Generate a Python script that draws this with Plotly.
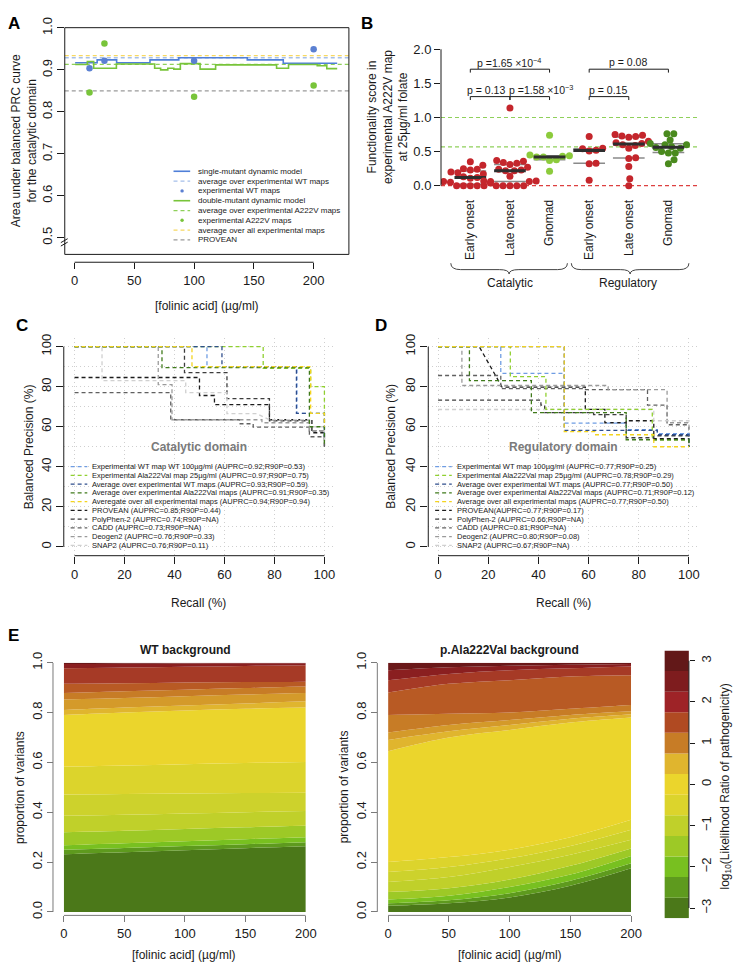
import numpy as np
import plotly.graph_objects as go

W, H = 744, 970
def fx(px): return px / W
def fy(py): return 1 - py / H

FONT = "Liberation Sans, Arial, Helvetica, sans-serif"
INK = "#1a1a1a"
DASH = "4px,3px"

# ---------------- Panel A data ----------------
A_CONC = [12.5, 25, 100, 200]
A_WT_MAPS = [0.904, 0.922, 0.922, 0.949]
A_A222V_MAPS = [0.846, 0.963, 0.836, 0.863]
A_SINGLE_X = [0.5, 18.9, 35.2, 63.1, 87.2, 144.5, 174.6, 219.7]
A_SINGLE_Y = [0.917, 0.924, 0.917, 0.924, 0.929, 0.924, 0.916, 0.916]
A_DOUBLE_X = [0.5, 10.7, 16.0, 35.0, 67.0, 72.0, 78.0, 83.0, 88.5, 105.0, 118.0, 169.0, 179.0, 203.0, 211.0, 219.7]
A_DOUBLE_Y = [0.913, 0.920, 0.904, 0.914, 0.904, 0.900, 0.904, 0.902, 0.915, 0.902, 0.912, 0.904, 0.913, 0.910, 0.903, 0.903]
A_AVG_ALL = 0.934
A_AVG_WT = 0.929
A_AVG_A222V = 0.913
A_PROVEAN = 0.850
A_XTICKS = [0, 50, 100, 150, 200]
A_YTICKS = [0.5, 0.6, 0.7, 0.8, 0.9, 1.0]

# ---------------- Panel B data ----------------
B_GROUPS = ["Early onset", "Late onset", "Gnomad", "Early onset", "Late onset", "Gnomad"]
B_DOMAINS = ["Catalytic", "Regulatory"]
B_EARLY_CAT = [0.35, 0.30, 0.25, 0.24, 0.23, 0.20, 0.19, 0.17, 0.13, 0.12, 0.11, 0.06, 0.05, 0.04, 0.0, 0.0, 0.0, 0.0, 0.0]
B_LATE_CAT = [1.14, 0.37, 0.36, 0.34, 0.33, 0.31, 0.27, 0.24, 0.23, 0.22, 0.22, 0.14, 0.07, 0.07, 0.06, 0.06, 0.0, 0.0, 0.0, 0.0, 0.0]
B_GNOMAD_CAT = [0.74, 0.45, 0.44, 0.43, 0.42, 0.42, 0.38, 0.37, 0.21]
B_EARLY_REG = [0.72, 0.55, 0.54, 0.52, 0.51, 0.33, 0.32, 0.08]
B_LATE_REG = [0.75, 0.74, 0.73, 0.72, 0.71, 0.65, 0.63, 0.62, 0.60, 0.59, 0.55, 0.41, 0.40, 0.28, 0.10, 0.0]
B_GNOMAD_REG = [0.76, 0.76, 0.67, 0.62, 0.60, 0.60, 0.57, 0.56, 0.55, 0.50, 0.48, 0.48, 0.38, 0.32]
B_WT_LEVEL = 1.0
B_A222V_LEVEL = 0.57
B_NULL_LEVEL = 0.0
B_YTICKS = [0.0, 0.5, 1.0, 1.5, 2.0]
B_PVALS = ["p = 0.13", "p =1.58 \u00d710<sup>\u22123</sup>", "p =1.65 \u00d710<sup>\u22124</sup>",
           "p = 0.15", "p = 0.08"]
B_PAIRS = [(1, 2), (2, 3), (1, 3), (4, 5), (4, 6)]

# ---------------- Panel C / D data (recall %, balanced precision %) ----------------
C_CURVES = [
    ("Experimental WT map WT 100\u00b5g/ml (AUPRC=0.92;R90P=0.53)",
     [0, 53, 53, 89, 89, 100, 100], [100, 100, 90, 90, 66.7, 66.7, 55]),
    ("Experimental Ala222Val map 25\u00b5g/ml (AUPRC=0.97;R90P=0.75)",
     [0, 75.5, 75.5, 94.5, 94.5, 100, 100], [100, 100, 89.2, 89.2, 80, 80, 60]),
    ("Average over experimental WT maps (AUPRC=0.93;R90P=0.59)",
     [0, 59, 59, 88.8, 88.8, 100, 100], [100, 100, 90, 90, 66.7, 66.7, 55]),
    ("Average over experimental Ala222Val maps (AUPRC=0.91;R90P=0.35)",
     [0, 35, 35, 94, 94, 100, 100], [100, 100, 89.5, 89.5, 60, 60, 50]),
    ("Averegate over all experimental maps (AUPRC=0.94;R90P=0.94)",
     [0, 47, 47, 94.5, 94.5, 100, 100], [100, 100, 90, 90, 66.7, 66.7, 60]),
    ("PROVEAN (AUPRC=0.85;R90P=0.44)",
     [0, 50, 50, 56, 56, 78, 78, 95, 95, 100, 100], [84.6, 84.6, 75.6, 75.6, 71, 71, 63.5, 63.5, 57, 57, 50]),
    ("PolyPhen-2 (AUPRC=0.74;R90P=NA)",
     [0, 44, 44, 61, 61, 78, 78, 94, 94, 100, 100], [100, 100, 87, 87, 74, 74, 63, 63, 58, 58, 54]),
    ("CADD (AUPRC=0.73;R90P=NA)",
     [0, 38.5, 38.5, 66, 66, 71.5, 71.5, 94, 94, 100, 100], [77, 77, 63.5, 63.5, 61.5, 61.5, 59.8, 59.8, 55, 55, 50]),
    ("Deogen2 (AUPRC=0.76;R90P=0.33)",
     [0, 33.5, 33.5, 39, 39, 75, 75, 94, 94, 100, 100], [100, 100, 81, 81, 63.5, 63.5, 62, 62, 58, 58, 50]),
    ("SNAP2 (AUPRC=0.76;R90P=0.11)",
     [0, 11, 11, 44.5, 44.5, 61, 61, 73, 78, 94, 94, 100, 100], [100, 100, 83, 83, 77, 77, 66.5, 66.5, 63.5, 63.5, 60, 60, 52]),
]
D_CURVES = [
    ("Experimental WT map 100\u00b5g/ml (AUPRC=0.77;R90P=0.25)",
     [0, 25, 25, 50.3, 50.3, 75, 75, 87.4, 87.4, 100, 100], [100, 100, 86.7, 86.7, 61.8, 61.8, 58.5, 58.5, 56.5, 56.5, 50]),
    ("Experimental Ala222Val map 25\u00b5g/ml (AUPRC=0.78;R90P=0.29)",
     [0, 28.8, 28.8, 43, 43, 85.4, 85.4, 100, 100], [100, 100, 85, 85, 68.7, 68.7, 53.5, 53.5, 50]),
    ("Average over experimental WT maps (AUPRC=0.77;R90P=0.50)",
     [0, 50.3, 50.3, 87.4, 87.4, 100, 100], [100, 100, 58.2, 58.2, 56, 56, 50]),
    ("Average over experimental Ala222Val maps (AUPRC=0.71;R90P=0.12)",
     [0, 12.5, 12.5, 37.2, 37.2, 75, 75, 100, 100], [100, 100, 83, 83, 67, 67, 53.5, 53.5, 50]),
    ("Average over all experimental maps (AUPRC=0.77;R90P=0.50)",
     [0, 50.3, 50.3, 62.5, 62.5, 86, 86, 100], [100, 100, 57.6, 57.6, 56, 56, 50, 50]),
    ("PROVEAN(AUPRC=0.77;R90P=0.17)",
     [0, 16.4, 25.5, 58.7, 58.7, 66.5, 66.5, 75, 75, 86, 86, 100, 100], [100, 100, 79.8, 79.8, 68.7, 68.7, 62, 62, 63, 63, 54, 54, 50]),
    ("PolyPhen-2 (AUPRC=0.66;R90P=NA)",
     [0, 41, 41, 42.5, 42.5, 62, 62, 75, 75, 86, 86, 100, 100], [73.3, 73.3, 70.8, 70.8, 67, 67, 66, 66, 54.5, 54.5, 55.5, 55.5, 50]),
    ("CADD (AUPRC=0.81;R90P=NA)",
     [0, 25, 25, 58, 58, 83.5, 83.5, 91.3, 91.3, 100, 100], [85.6, 85.6, 79, 79, 78.5, 78.5, 70.8, 70.8, 61, 61, 55]),
    ("Deogen2 (AUPRC=0.80;R90P=0.08)",
     [0, 9.5, 9.5, 67.8, 67.8, 91.3, 91.3, 100, 100], [100, 100, 80.6, 80.6, 78.5, 78.5, 62, 62, 58]),
    ("SNAP2 (AUPRC=0.67;R90P=NA)",
     [0, 86, 86, 100, 100], [68.6, 68.6, 63, 63, 60]),
]
PR_COLORS = ["#6f9de3", "#90d030", "#2e4d8c", "#3f7a1a", "#f4d41e",
             "#1c1c1c", "#3d3d3d", "#606060", "#9a9a9a", "#d0d0d0"]
PR_TICKS = [0, 20, 40, 60, 80, 100]

# ---------------- Panel E data (cumulative proportion of variants, bottom -> top) ----------------
E_CONC = [0, 50, 100, 150, 200]
E_WT_TOPS = [
    [0.232, 0.240, 0.248, 0.256, 0.264],
    [0.250, 0.257, 0.265, 0.272, 0.280],
    [0.268, 0.276, 0.284, 0.292, 0.300],
    [0.320, 0.326, 0.333, 0.340, 0.346],
    [0.386, 0.390, 0.395, 0.400, 0.405],
    [0.471, 0.473, 0.475, 0.477, 0.478],
    [0.583, 0.588, 0.593, 0.598, 0.602],
    [0.790, 0.800, 0.808, 0.815, 0.820],
    [0.810, 0.820, 0.828, 0.836, 0.845],
    [0.852, 0.858, 0.865, 0.872, 0.878],
    [0.878, 0.885, 0.891, 0.898, 0.904],
    [0.915, 0.917, 0.920, 0.922, 0.924],
    [0.978, 0.981, 0.984, 0.987, 0.990],
    [0.995, 0.996, 0.997, 0.998, 0.998],
    [1.0, 1.0, 1.0, 1.0, 1.0],
]
E_A222V_TOPS = [
    [0.025, 0.035, 0.058, 0.105, 0.175],
    [0.035, 0.047, 0.075, 0.125, 0.195],
    [0.050, 0.065, 0.100, 0.150, 0.225],
    [0.080, 0.095, 0.130, 0.185, 0.255],
    [0.120, 0.140, 0.180, 0.230, 0.290],
    [0.160, 0.180, 0.215, 0.265, 0.330],
    [0.200, 0.220, 0.250, 0.300, 0.370],
    [0.645, 0.700, 0.730, 0.760, 0.780],
    [0.690, 0.725, 0.750, 0.775, 0.793],
    [0.720, 0.750, 0.770, 0.790, 0.805],
    [0.790, 0.795, 0.800, 0.815, 0.830],
    [0.880, 0.915, 0.930, 0.945, 0.950],
    [0.930, 0.955, 0.970, 0.978, 0.985],
    [0.970, 0.982, 0.988, 0.992, 0.995],
    [1.0, 1.0, 1.0, 1.0, 1.0],
]
E_BAND_COLORS = ["#4b7819", "#5e9a1e", "#78c020", "#9dc926", "#c0d02a", "#cdd22c", "#dcd42c",
                 "#ebd52c", "#e0b52e", "#d49a2a", "#c77c26", "#b85a24", "#a63a26", "#8a1f20", "#6a1819"]
CB_LEVELS = [-3, -2.5, -2, -1.5, -1, -0.5, 0, 0.5, 1, 1.5, 2, 2.5, 3]
CB_COLORS = ["#4b7819", "#5e9a1e", "#78c020", "#9dc926", "#c0d02a", "#dcd42c", "#ebd52c",
             "#e0b52e", "#c77c26", "#b04a22", "#9e2327", "#7e1c1e", "#621818"]
E_XTICKS = [0, 50, 100, 150, 200]
E_YTICKS = [0.0, 0.2, 0.4, 0.6, 0.8, 1.0]

fig = go.Figure()
shapes = []
anns = []

def ann(px, py, text, size=12, color=INK, angle=0, xa="center", ya="middle", bold=False):
    if bold:
        text = "<b>" + text + "</b>"
    anns.append(dict(x=fx(px), y=fy(py), xref="paper", yref="paper", text=text, showarrow=False,
                     font=dict(size=size, color=color, family=FONT), textangle=angle,
                     xanchor=xa, yanchor=ya))

def pline(x0, y0, x1, y1, color=INK, width=1, dash="solid"):
    shapes.append(dict(type="line", xref="paper", yref="paper", x0=fx(x0), y0=fy(y0), x1=fx(x1), y1=fy(y1),
                       line=dict(color=color, width=width, dash=dash)))

# ================= Panel A =================
for val, col in [(A_PROVEAN, "#9a9a9a"), (A_AVG_A222V, "#8fd05a"), (A_AVG_WT, "#a5bfea"), (A_AVG_ALL, "#f6d862")]:
    shapes.append(dict(type="line", xref="x domain", yref="y", x0=0, x1=1, y0=val, y1=val, layer="below",
                       line=dict(color=col, width=1.3, dash=DASH)))
fig.add_trace(go.Scatter(x=A_SINGLE_X, y=A_SINGLE_Y, mode="lines", line=dict(color="#4f7fd8", width=1.6, shape="hv"),
                         xaxis="x", yaxis="y", showlegend=False, hoverinfo="skip"))
fig.add_trace(go.Scatter(x=A_DOUBLE_X, y=A_DOUBLE_Y, mode="lines", line=dict(color="#78c43a", width=1.6, shape="hv"),
                         xaxis="x", yaxis="y", showlegend=False, hoverinfo="skip"))
fig.add_trace(go.Scatter(x=A_CONC, y=A_WT_MAPS, mode="markers", marker=dict(color="#5b80d2", size=6.5),
                         xaxis="x", yaxis="y", showlegend=False))
fig.add_trace(go.Scatter(x=A_CONC, y=A_A222V_MAPS, mode="markers", marker=dict(color="#78c43a", size=6.5),
                         xaxis="x", yaxis="y", showlegend=False))
shapes.append(dict(type="rect", xref="paper", yref="paper", x0=fx(62), x1=fx(352), y0=fy(248), y1=fy(17),
                   line=dict(color=INK, width=1)))
shapes.append(dict(type="line", xref="x", yref="paper", x0=A_XTICKS[0], x1=A_XTICKS[-1], y0=fy(256), y1=fy(256),
                   line=dict(color=INK, width=1)))
pline(58, 236, 65, 232, INK, 1)
pline(58, 239.5, 65, 235.5, INK, 1)
legA = [("line", "#4f7fd8", "solid", "single-mutant dynamic model"),
        ("line", "#a5bfea", DASH, "average over experimental WT maps"),
        ("dot", "#5b80d2", None, "experimental WT maps"),
        ("line", "#78c43a", "solid", "double-mutant dynamic model"),
        ("line", "#8fd05a", DASH, "average over experimental A222V maps"),
        ("dot", "#78c43a", None, "experimental A222V maps"),
        ("line", "#f6d862", DASH, "average over all experimental maps"),
        ("line", "#9a9a9a", DASH, "PROVEAN")]
for i, (kind, col, dsh, txt) in enumerate(legA):
    yy = 163.3 + 10 * i
    if kind == "line":
        pline(173, yy, 190, yy, col, 1.6 if dsh == "solid" else 1.3, dsh)
    else:
        shapes.append(dict(type="circle", xref="paper", yref="paper", x0=fx(180), x1=fx(183.5), y0=fy(yy + 1.75),
                           y1=fy(yy - 1.75), fillcolor=col, line=dict(width=0)))
    ann(196, yy, txt, size=8, xa="left")
ann(20, 132, "Area under balanced PRC curve<br>for the catalytic domain", size=12, angle=-90)
ann(207, 301, "[folinic acid] (\u00b5g/ml)", size=12)

# ================= Panel B =================
YPX_B = 69.5
XPX_B = 40.4
def swarm_offsets(vals, diam=7.0):
    v = np.asarray(vals, float) * YPX_B
    order = np.argsort(v, kind="stable")
    cands = [0.0]
    for g in np.arange(0.25, 60, 0.25):
        cands += [g, -g]
    px_, py_ = [], []
    offs = np.zeros(len(v))
    for i in order:
        for c in cands:
            if all((c - a) ** 2 + (v[i] - b) ** 2 >= diam ** 2 - 1e-6 for a, b in zip(px_, py_)):
                break
        offs[i] = c
        px_.append(c); py_.append(v[i])
    return offs / XPX_B

RED = "#c4262c"
groups_B = [(B_EARLY_CAT, RED), (B_LATE_CAT, RED), (B_GNOMAD_CAT, "#8ccb3c"),
            (B_EARLY_REG, RED), (B_LATE_REG, RED), (B_GNOMAD_REG, "#4a8a1e")]
for val, col in [(B_WT_LEVEL, "#8fd05a"), (B_A222V_LEVEL, "#8fd05a"), (B_NULL_LEVEL, "#dd4040")]:
    shapes.append(dict(type="line", xref="x2 domain", yref="y2", x0=0, x1=1, y0=val, y1=val, layer="below",
                       line=dict(color=col, width=1.2, dash=DASH)))
for gi, (vals, col) in enumerate(groups_B):
    c = gi + 1
    offs = swarm_offsets(vals)
    q1, med, q3 = np.percentile(vals, [25, 50, 75])
    fig.add_trace(go.Scatter(x=[c - 0.4, c + 0.4, None, c - 0.4, c + 0.4], y=[q1, q1, None, q3, q3], mode="lines",
                             line=dict(color="#8a8a8a", width=1.5), xaxis="x2", yaxis="y2", showlegend=False,
                             hoverinfo="skip"))
    fig.add_trace(go.Scatter(x=c + offs, y=vals, mode="markers", marker=dict(color=col, size=7),
                             xaxis="x2", yaxis="y2", showlegend=False))
    fig.add_trace(go.Scatter(x=[c - 0.4, c + 0.4], y=[med, med], mode="lines",
                             line=dict(color="#2e2e2e", width=3), xaxis="x2", yaxis="y2", showlegend=False,
                             hoverinfo="skip"))
shapes.append(dict(type="line", xref="x2 domain", yref="y2", x0=0, x1=0, y0=B_YTICKS[0], y1=B_YTICKS[-1],
                   line=dict(color=INK, width=1)))
br_y = [1.306, 1.306, 1.708, 1.306, 1.708]
txt_x = [1.40, 2.79, 1.97, 4.48, 4.98]
for (a, b), yb, tx, pv in zip(B_PAIRS, br_y, txt_x, B_PVALS):
    shapes.append(dict(type="path", xref="x2", yref="y2",
                       path=f"M {a},{yb-0.05} L {a},{yb} L {b},{yb} L {b},{yb-0.05}",
                       line=dict(color=INK, width=1)))
    anns.append(dict(x=tx, y=yb + 0.1, xref="x2", yref="y2", text=pv, showarrow=False,
                     font=dict(size=10.5, color=INK, family=FONT), xanchor="center", yanchor="middle"))
def brace(x0, x1, ytop, ytip):
    xm = (x0 + x1) / 2
    ymid = (ytop + ytip) / 2 + 1
    pts = [(x0, ytop), (x0, ymid), (x0 + 10, ymid), (xm - 10, ymid), (xm, ymid), (xm, ytip),
           (xm, ymid), (xm + 10, ymid), (x1 - 10, ymid), (x1, ymid), (x1, ytop)]
    P = [(fx(a), fy(b)) for a, b in pts]
    path = (f"M {P[0][0]},{P[0][1]} Q {P[1][0]},{P[1][1]} {P[2][0]},{P[2][1]} L {P[3][0]},{P[3][1]} "
            f"Q {P[4][0]},{P[4][1]} {P[5][0]},{P[5][1]} Q {P[6][0]},{P[6][1]} {P[7][0]},{P[7][1]} "
            f"L {P[8][0]},{P[8][1]} Q {P[9][0]},{P[9][1]} {P[10][0]},{P[10][1]}")
    shapes.append(dict(type="path", xref="paper", yref="paper", path=path, line=dict(color="#444", width=1)))
brace(456, 575, 257, 268)
brace(579, 699, 257, 268)
ann(516, 277, B_DOMAINS[0], size=12)
ann(637, 277, B_DOMAINS[1], size=12)
ann(392, 108, "Functionality score in<br>experimental A222V map<br>at 25\u00b5g/ml folate", size=12, angle=-90)

# ================= Panels C & D =================
def pr_panel(curves, xa, ya, xl, yl0, title):
    order = list(range(5, 10)) + list(range(0, 5))
    for k in order:
        name, r, p = curves[k]
        fig.add_trace(go.Scatter(x=r, y=p, mode="lines", line=dict(color=PR_COLORS[k], width=1.3, dash=DASH),
                                 xaxis=xa, yaxis=ya, showlegend=False, hoverinfo="skip"))
    shapes.append(dict(type="line", xref=xa + " domain", yref=ya, x0=0, x1=0, y0=0, y1=100,
                       line=dict(color=INK, width=1)))
    shapes.append(dict(type="line", xref=xa, yref=ya + " domain", x0=0, x1=100, y0=0, y1=0,
                       line=dict(color=INK, width=1)))
    anns.append(dict(x=50, y=50, xref=xa, yref=ya, text="<b>" + title + "</b>", showarrow=False,
                     font=dict(size=12, color="#7a7a7a", family=FONT)))
    for i, (name, r, p) in enumerate(curves):
        yy = yl0 + 8.9 * i
        pline(xl, yy, xl + 17, yy, PR_COLORS[i], 1.3, DASH)
        ann(xl + 20, yy, name, size=7.5, xa="left")
pr_panel(C_CURVES, "x3", "y3", 68, 464.3, "Catalytic domain")
pr_panel(D_CURVES, "x4", "y4", 440, 464.3, "Regulatory domain")
ann(25, 444, "Balanced Precision (%)", size=12, angle=-90)
ann(395, 444, "Balanced Precision (%)", size=12, angle=-90)
ann(199, 603, "Recall (%)", size=12)
ann(571, 603, "Recall (%)", size=12)

# ================= Panel E =================
def stack_panel(tops, xa, ya):
    for k, t in enumerate(tops):
        fig.add_trace(go.Scatter(x=E_CONC, y=t, mode="lines", line=dict(width=0, shape="spline", color=E_BAND_COLORS[k]),
                                 fill="tozeroy" if k == 0 else "tonexty", fillcolor=E_BAND_COLORS[k],
                                 xaxis=xa, yaxis=ya, showlegend=False, hoverinfo="skip"))
stack_panel(E_WT_TOPS, "x5", "y5")
stack_panel(E_A222V_TOPS, "x6", "y6")
AX_GREY = "#7a7a7a"
for xa, ya, ypos, xpos in [("x5", "y5", 921.5, 50), ("x6", "y6", 921.5, 381)]:
    shapes.append(dict(type="line", xref=xa, yref="paper", x0=E_XTICKS[0], x1=E_XTICKS[-1], y0=fy(ypos), y1=fy(ypos),
                       line=dict(color=AX_GREY, width=1)))
    shapes.append(dict(type="line", xref="paper", yref=ya, x0=fx(xpos), x1=fx(xpos), y0=E_YTICKS[0], y1=E_YTICKS[-1],
                       line=dict(color=AX_GREY, width=1)))
fig.add_trace(go.Bar(x=[0] * len(CB_LEVELS), y=[0.5] * len(CB_LEVELS), base=[l - 0.25 for l in CB_LEVELS],
                     width=1, marker=dict(color=CB_COLORS, line=dict(width=0)), xaxis="x7", yaxis="y7",
                     showlegend=False, hoverinfo="skip"))
shapes.append(dict(type="line", xref="x7 domain", yref="y7", x0=1, x1=1, y0=-3, y1=3, line=dict(color=INK, width=1)))
ann(185, 651, "WT background", size=12, bold=True)
ann(516, 651, "p.Ala222Val background", size=12, bold=True)
ann(17, 791, "proportion of variants", size=12, angle=-90)
ann(347, 791, "proportion of variants", size=12, angle=-90)
ann(184, 962, "[folinic acid] (\u00b5g/ml)", size=12)
ann(516, 962, "[folinic acid] (\u00b5g/ml)", size=12)
ann(737, 790, "log<sub>10</sub>(Likelihood Ratio of pathogenicity)", size=12, angle=-90)

for L, px, py in [("A", 10, 13), ("B", 370, 13), ("C", 18, 320), ("D", 385, 320), ("E", 10, 636)]:
    ann(px, py, L, size=17, bold=True, color="#000")

tickfont = dict(size=13, color=INK, family=FONT)
base_ax = dict(showgrid=False, zeroline=False, showline=False, tickfont=tickfont, ticks="outside",
               tickcolor=INK, tickwidth=1)
grid_kw = dict(showgrid=True, gridcolor="#cfcfcf", griddash="1px,3px", gridwidth=1)
minor_kw = dict(tickvals=[10, 30, 50, 70, 90], showgrid=True, gridcolor="#cfcfcf", griddash="1px,3px", ticks="")

fig.update_layout(
    width=W, height=H, margin=dict(l=0, r=0, t=0, b=0), paper_bgcolor="white", plot_bgcolor="white",
    font=dict(family=FONT, color=INK), showlegend=False,
    xaxis=dict(base_ax, domain=[fx(62), fx(352)], range=[-8.2, 229.5], anchor="free", position=fy(256),
               tickvals=A_XTICKS, ticklen=6),
    yaxis=dict(base_ax, domain=[fy(248), fy(17)], range=[0.4602, 1.0007], anchor="x", tickvals=A_YTICKS,
               tickformat=".1f", tickangle=-90, ticklen=7),
    xaxis2=dict(base_ax, domain=[fx(446), fx(708)], range=[0.26, 6.74], anchor="free", position=fy(189),
                tickvals=[1, 2, 3, 4, 5, 6], ticktext=B_GROUPS, tickangle=-90, ticks="",
                tickfont=dict(size=12, color=INK, family=FONT)),
    yaxis2=dict(base_ax, domain=[fy(185), fy(30)], range=[-0.1007, 2.1295], anchor="x2", tickvals=B_YTICKS,
                tickformat=".1f", ticklen=6),
    xaxis3=dict(base_ax, **grid_kw, domain=[fx(61), fx(336)], range=[-4.31, 103.53], anchor="y3",
                tickvals=PR_TICKS, ticklen=7),
    yaxis3=dict(base_ax, **grid_kw, domain=[fy(555), fy(333)], range=[-4.41, 104.41], anchor="x3",
                tickvals=PR_TICKS, tickangle=-90, ticklen=7, minor=minor_kw),
    xaxis4=dict(base_ax, **grid_kw, domain=[fx(433), fx(708)], range=[-3.91, 103.52], anchor="y4",
                tickvals=PR_TICKS, ticklen=7),
    yaxis4=dict(base_ax, **grid_kw, domain=[fy(555), fy(333)], range=[-4.41, 104.41], anchor="x4",
                tickvals=PR_TICKS, tickangle=-90, ticklen=7, minor=minor_kw),
    xaxis5=dict(base_ax, domain=[fx(61), fx(308)], range=[0, 200], anchor="free", position=fy(921.5),
                tickvals=E_XTICKS, ticklen=6, tickcolor=AX_GREY),
    yaxis5=dict(base_ax, domain=[fy(918), fy(664)], range=[0, 1], anchor="free", position=fx(50),
                tickvals=E_YTICKS, tickformat=".1f", tickangle=-90, ticklen=6, tickcolor=AX_GREY),
    xaxis6=dict(base_ax, domain=[fx(392), fx(640)], range=[0, 200], anchor="free", position=fy(921.5),
                tickvals=E_XTICKS, ticklen=6, tickcolor=AX_GREY),
    yaxis6=dict(base_ax, domain=[fy(918), fy(664)], range=[0, 1], anchor="free", position=fx(381),
                tickvals=E_YTICKS, tickformat=".1f", tickangle=-90, ticklen=6, tickcolor=AX_GREY),
    xaxis7=dict(domain=[fx(674), fx(699)], range=[-0.5, 0.5], anchor="y7", visible=False),
    yaxis7=dict(base_ax, domain=[fy(924.5), fy(651.5)], range=[-3.25, 3.25], anchor="x7", side="right",
                tickvals=[-3, -2, -1, 0, 1, 2, 3], tickangle=-90, ticklen=5),
    shapes=shapes, annotations=anns,
)
fig.write_html("out.html", config={"displayModeBar": False},
               post_script="document.body.style.margin='0px';")
